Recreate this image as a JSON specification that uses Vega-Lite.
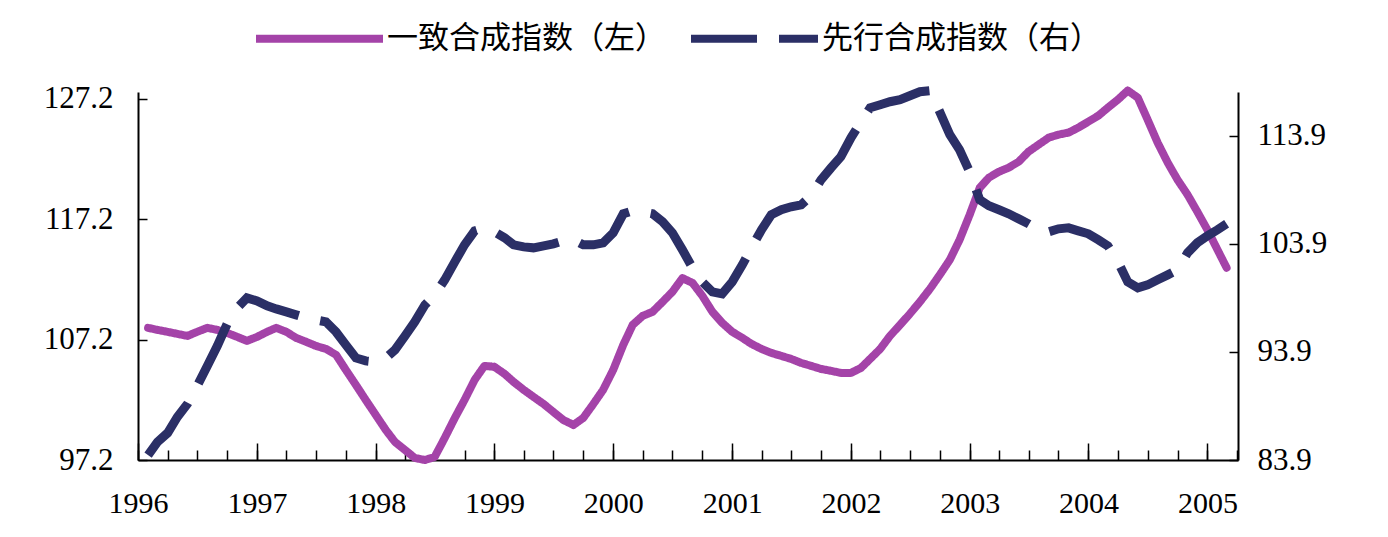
{
  "$schema": "https://vega.github.io/schema/vega-lite/v6.json",
  "width": 1100,
  "height": 368,
  "autosize": {"type": "none"},
  "padding": {"left": 138, "top": 92, "right": 150, "bottom": 77},
  "background": "white",
  "config": {
    "view": {"stroke": null},
    "axis": {
      "domainColor": "#000000",
      "tickColor": "#000000",
      "labelColor": "#000000",
      "labelFont": "Liberation Serif",
      "labelFontSize": 31,
      "grid": false,
      "title": null,
      "domainWidth": 2,
      "tickWidth": 1.5
    }
  },
  "data": {
    "values": [
      {"d": "1996-02-01", "ci": 108.17, "li": 84.36},
      {"d": "1996-03-01", "ci": 108.00, "li": 85.57},
      {"d": "1996-04-01", "ci": 107.84, "li": 86.40},
      {"d": "1996-05-01", "ci": 107.67, "li": 87.88},
      {"d": "1996-06-01", "ci": 107.50, "li": 89.09},
      {"d": "1996-07-01", "ci": 107.84, "li": 90.75},
      {"d": "1996-08-01", "ci": 108.17, "li": 92.60},
      {"d": "1996-09-01", "ci": 108.00, "li": 94.46},
      {"d": "1996-10-01", "ci": 107.75, "li": 96.49},
      {"d": "1996-11-01", "ci": 107.42, "li": 97.97},
      {"d": "1996-12-01", "ci": 107.09, "li": 98.90},
      {"d": "1997-01-01", "ci": 107.42, "li": 98.62},
      {"d": "1997-02-01", "ci": 107.84, "li": 98.16},
      {"d": "1997-03-01", "ci": 108.17, "li": 97.88},
      {"d": "1997-04-01", "ci": 107.84, "li": 97.60},
      {"d": "1997-05-01", "ci": 107.34, "li": 97.33},
      {"d": "1997-06-01", "ci": 107.01, "li": 97.05},
      {"d": "1997-07-01", "ci": 106.67, "li": 96.86},
      {"d": "1997-08-01", "ci": 106.42, "li": 96.68},
      {"d": "1997-09-01", "ci": 105.93, "li": 95.75},
      {"d": "1997-10-01", "ci": 104.68, "li": 94.55},
      {"d": "1997-11-01", "ci": 103.43, "li": 93.34},
      {"d": "1997-12-01", "ci": 102.19, "li": 93.07},
      {"d": "1998-01-01", "ci": 100.94, "li": 92.97},
      {"d": "1998-02-01", "ci": 99.69, "li": 93.34},
      {"d": "1998-03-01", "ci": 98.70, "li": 94.09},
      {"d": "1998-04-01", "ci": 98.03, "li": 95.38},
      {"d": "1998-05-01", "ci": 97.37, "li": 96.68},
      {"d": "1998-06-01", "ci": 97.20, "li": 98.25},
      {"d": "1998-07-01", "ci": 97.45, "li": 99.18},
      {"d": "1998-08-01", "ci": 99.03, "li": 100.57},
      {"d": "1998-09-01", "ci": 100.69, "li": 102.23},
      {"d": "1998-10-01", "ci": 102.19, "li": 103.81},
      {"d": "1998-11-01", "ci": 103.85, "li": 105.10},
      {"d": "1998-12-01", "ci": 105.01, "li": 105.38},
      {"d": "1999-01-01", "ci": 104.93, "li": 105.01},
      {"d": "1999-02-01", "ci": 104.35, "li": 104.46},
      {"d": "1999-03-01", "ci": 103.68, "li": 103.81},
      {"d": "1999-04-01", "ci": 103.02, "li": 103.62},
      {"d": "1999-05-01", "ci": 102.44, "li": 103.53},
      {"d": "1999-06-01", "ci": 101.85, "li": 103.71},
      {"d": "1999-07-01", "ci": 101.19, "li": 103.90},
      {"d": "1999-08-01", "ci": 100.52, "li": 104.18},
      {"d": "1999-09-01", "ci": 100.11, "li": 104.27},
      {"d": "1999-10-01", "ci": 100.69, "li": 103.81},
      {"d": "1999-11-01", "ci": 101.85, "li": 103.81},
      {"d": "1999-12-01", "ci": 103.02, "li": 103.99},
      {"d": "2000-01-01", "ci": 104.68, "li": 104.92},
      {"d": "2000-02-01", "ci": 106.76, "li": 106.68},
      {"d": "2000-03-01", "ci": 108.42, "li": 106.96},
      {"d": "2000-04-01", "ci": 109.17, "li": 106.86},
      {"d": "2000-05-01", "ci": 109.50, "li": 106.68},
      {"d": "2000-06-01", "ci": 110.33, "li": 105.94},
      {"d": "2000-07-01", "ci": 111.16, "li": 104.92},
      {"d": "2000-08-01", "ci": 112.30, "li": 103.34},
      {"d": "2000-09-01", "ci": 111.90, "li": 101.68},
      {"d": "2000-10-01", "ci": 110.83, "li": 100.38},
      {"d": "2000-11-01", "ci": 109.50, "li": 99.46},
      {"d": "2000-12-01", "ci": 108.59, "li": 99.27},
      {"d": "2001-01-01", "ci": 107.84, "li": 100.38},
      {"d": "2001-02-01", "ci": 107.34, "li": 101.96},
      {"d": "2001-03-01", "ci": 106.84, "li": 103.53},
      {"d": "2001-04-01", "ci": 106.42, "li": 105.20},
      {"d": "2001-05-01", "ci": 106.09, "li": 106.59},
      {"d": "2001-06-01", "ci": 105.84, "li": 107.05},
      {"d": "2001-07-01", "ci": 105.59, "li": 107.33},
      {"d": "2001-08-01", "ci": 105.26, "li": 107.51},
      {"d": "2001-09-01", "ci": 105.01, "li": 108.34},
      {"d": "2001-10-01", "ci": 104.76, "li": 109.83},
      {"d": "2001-11-01", "ci": 104.60, "li": 110.94},
      {"d": "2001-12-01", "ci": 104.43, "li": 111.96},
      {"d": "2002-01-01", "ci": 104.43, "li": 113.71},
      {"d": "2002-02-01", "ci": 104.85, "li": 115.20},
      {"d": "2002-03-01", "ci": 105.59, "li": 116.49},
      {"d": "2002-04-01", "ci": 106.42, "li": 116.77},
      {"d": "2002-05-01", "ci": 107.50, "li": 117.05},
      {"d": "2002-06-01", "ci": 108.42, "li": 117.23},
      {"d": "2002-07-01", "ci": 109.33, "li": 117.60},
      {"d": "2002-08-01", "ci": 110.33, "li": 117.97},
      {"d": "2002-09-01", "ci": 111.41, "li": 118.07},
      {"d": "2002-10-01", "ci": 112.57, "li": 116.12},
      {"d": "2002-11-01", "ci": 113.82, "li": 114.00},
      {"d": "2002-12-01", "ci": 115.48, "li": 112.60},
      {"d": "2003-01-01", "ci": 117.56, "li": 110.57},
      {"d": "2003-02-01", "ci": 119.80, "li": 107.97},
      {"d": "2003-03-01", "ci": 120.64, "li": 107.42},
      {"d": "2003-04-01", "ci": 121.13, "li": 107.05},
      {"d": "2003-05-01", "ci": 121.47, "li": 106.68},
      {"d": "2003-06-01", "ci": 121.97, "li": 106.21},
      {"d": "2003-07-01", "ci": 122.80, "li": 105.75},
      {"d": "2003-08-01", "ci": 123.38, "li": 105.20},
      {"d": "2003-09-01", "ci": 123.96, "li": 105.01},
      {"d": "2003-10-01", "ci": 124.21, "li": 105.29},
      {"d": "2003-11-01", "ci": 124.38, "li": 105.38},
      {"d": "2003-12-01", "ci": 124.79, "li": 105.10},
      {"d": "2004-01-01", "ci": 125.29, "li": 104.83},
      {"d": "2004-02-01", "ci": 125.79, "li": 104.27},
      {"d": "2004-03-01", "ci": 126.45, "li": 103.71},
      {"d": "2004-04-01", "ci": 127.12, "li": 102.23},
      {"d": "2004-05-01", "ci": 127.87, "li": 100.38},
      {"d": "2004-06-01", "ci": 127.28, "li": 99.83},
      {"d": "2004-07-01", "ci": 125.46, "li": 100.10},
      {"d": "2004-08-01", "ci": 123.54, "li": 100.57},
      {"d": "2004-09-01", "ci": 121.88, "li": 101.03},
      {"d": "2004-10-01", "ci": 120.47, "li": 101.49},
      {"d": "2004-11-01", "ci": 119.22, "li": 103.07},
      {"d": "2004-12-01", "ci": 117.81, "li": 104.00},
      {"d": "2005-01-01", "ci": 116.31, "li": 104.64},
      {"d": "2005-02-01", "ci": 114.65, "li": 105.20},
      {"d": "2005-03-01", "ci": 113.16, "li": 105.75}
    ]
  },
  "transform": [{"fold": ["ci", "li"], "as": ["series", "value"]}],
  "layer": [
    {
      "transform": [{"filter": {"field": "series", "equal": "ci"}}],
      "mark": {"type": "line", "strokeWidth": 8, "strokeCap": "round", "strokeJoin": "round"},
      "encoding": {
        "x": {
          "field": "d",
          "type": "temporal",
          "scale": {
            "type": "utc",
            "domain": [
              {"year": 1996, "month": 1, "date": 1, "utc": true},
              {"year": 2005, "month": 4, "date": 5, "utc": true}
            ]
          },
          "axis": {
            "orient": "bottom",
            "tickCount": {"interval": "year", "step": 1},
            "format": "%Y",
            "formatType": "utc",
            "tickSize": -17,
            "labelPadding": 45,
            "labelFontSize": 30,
            "labelFlush": false
          }
        },
        "y": {
          "field": "value",
          "type": "quantitative",
          "scale": {"domain": [97.2, 127.75], "nice": false, "zero": false},
          "axis": {
            "orient": "left",
            "values": [97.2, 107.2, 117.2, 127.2],
            "format": ".1f",
            "tickSize": -9,
            "labelPadding": 34
          }
        },
        "color": {
          "field": "series",
          "type": "nominal",
          "scale": {"domain": ["ci", "li"], "range": ["#a443a8", "#2b2f66"]},
          "legend": {
            "orient": "none",
            "legendX": 114,
            "legendY": -121,
            "direction": "horizontal",
            "title": null,
            "symbolType": "stroke",
            "symbolSize": 16129,
            "symbolStrokeWidth": 8,
            "labelFont": "Noto Sans CJK SC",
            "labelFontSize": 31,
            "labelColor": "#000000",
            "labelLimit": 400,
            "labelOffset": 0,
            "columnPadding": 9,
            "labelExpr": "datum.label == 'ci' ? '一致合成指数（左）' : '先行合成指数（右）'"
          }
        },
        "strokeDash": {
          "field": "series",
          "type": "nominal",
          "scale": {"domain": ["ci", "li"], "range": [[1, 0], [66, 22]]}
        }
      }
    },
    {
      "transform": [{"filter": {"field": "series", "equal": "li"}}],
      "mark": {"type": "line", "strokeWidth": 9, "strokeCap": "butt", "strokeJoin": "miter"},
      "encoding": {
        "x": {
          "field": "d",
          "type": "temporal",
          "axis": {
            "orient": "bottom",
            "tickCount": {"interval": "month", "step": 3},
            "labels": false,
            "domain": false,
            "tickSize": -10
          }
        },
        "y": {
          "field": "value",
          "type": "quantitative",
          "scale": {"domain": [83.9, 117.95], "nice": false, "zero": false},
          "axis": {
            "orient": "right",
            "values": [83.9, 93.9, 103.9, 113.9],
            "format": ".1f",
            "tickSize": -9,
            "labelPadding": 28
          }
        },
        "color": {"field": "series", "type": "nominal"},
        "strokeDash": {"field": "series", "type": "nominal"}
      }
    }
  ],
  "resolve": {
    "scale": {"y": "independent"},
    "axis": {"x": "independent", "y": "independent"}
  }
}
